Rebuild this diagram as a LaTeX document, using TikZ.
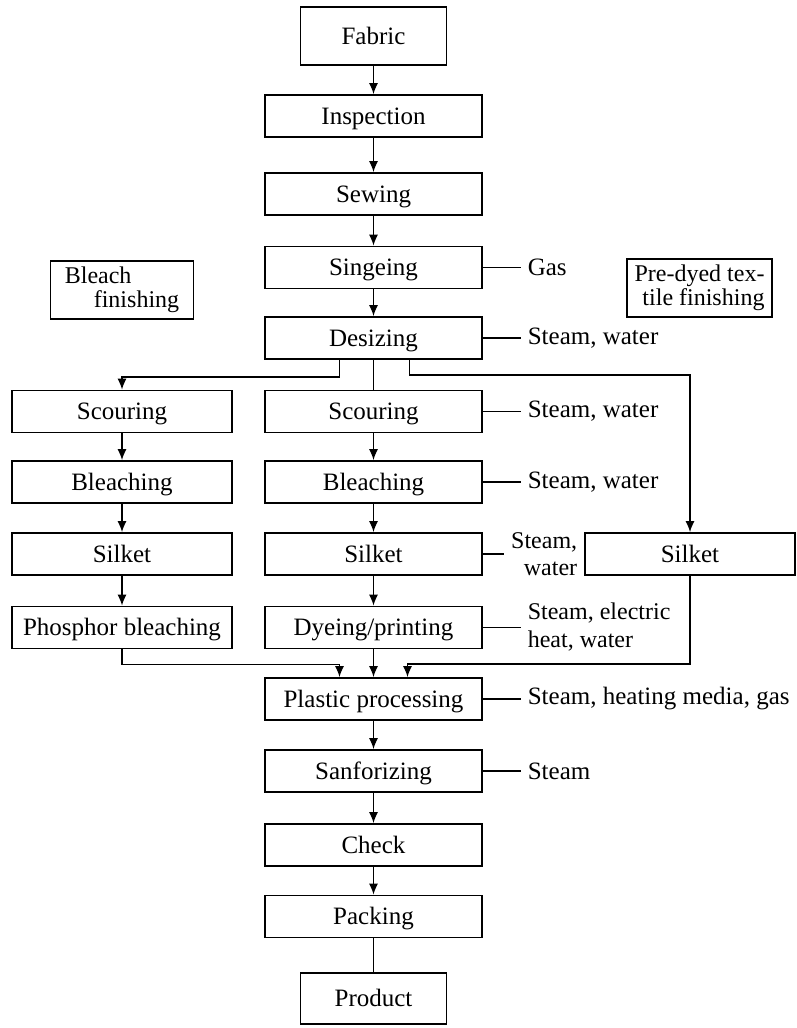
\documentclass[tikz,border=0pt]{standalone}
\usepackage{fontspec}
\setmainfont{Liberation Serif}
\usetikzlibrary{arrows.meta}
\begin{document}
\begin{tikzpicture}[
	x=1pt, y=1pt, line width=1.6pt,
	font=\fontsize{25}{28}\selectfont,
	>={Latex[length=11pt,width=9pt]},
	stage/.style = {draw, minimum width=217pt, minimum height=42pt, inner sep=0pt, text height=22.5pt, text depth=6pt},
	side/.style = {stage, minimum width=220pt},
	end box/.style = {draw, minimum width=146pt, minimum height=56pt, inner sep=0pt, text height=22.5pt, text depth=6pt},
	note box/.style = {draw, minimum width=143pt, minimum height=58pt, inner sep=0pt, font=\fontsize{24}{24}\selectfont},
	medium/.style = {anchor=west, inner xsep=6pt, inner ysep=0pt},
	]
	\useasboundingbox (0,0) rectangle (797,-1028);
	% main line
	\node[end box, minimum height=58pt] (fabric) at (373.5,-36) {Fabric};
	\node[stage] (inspection) at (373.5,-116) {Inspection};
	\node[stage] (sewing) at (373.5,-194) {Sewing};
	\node[stage] (singeing) at (373.5,-267.5) {Singeing};
	\node[stage] (desizing) at (373.5,-338) {Desizing};
	\node[stage] (scouring) at (373.5,-411.5) {Scouring};
	\node[stage] (bleaching) at (373.5,-482) {Bleaching};
	\node[stage] (silket) at (373.5,-554) {Silket};
	\node[stage] (dyeing) at (373.5,-627.5) {Dyeing/printing};
	\node[stage] (plastic) at (373.5,-699) {Plastic processing};
	\node[stage] (sanfor) at (373.5,-771) {Sanforizing};
	\node[stage] (check) at (373.5,-845) {Check};
	\node[stage] (packing) at (373.5,-916.5) {Packing};
	\node[end box, minimum height=51pt] (product) at (373.5,-998.5) {Product};
	% bleach finishing
	\node[note box, align=left] (bleachnote) at (122,-290) {Bleach\\\hspace*{29pt}finishing};
	\node[side] (lscouring) at (122,-411.5) {Scouring};
	\node[side] (lbleaching) at (122,-482) {Bleaching};
	\node[side] (lsilket) at (122,-554) {Silket};
	\node[side] (phosphor) at (122,-627.5) {Phosphor bleaching};
	% pre-dyed textile finishing
	\node[note box, align=right, minimum width=145pt] (predyednote) at (699.5,-288) {Pre-dyed tex-\\tile finishing};
	\node[stage, minimum width=210pt] (rsilket) at (690,-554) {Silket};
	% media
	\node[medium] (gas) at (521,-267.5) {Gas};
	\node[medium] (desizmed) at (521,-338) {Steam, water};
	\node[medium] (scourmed) at (521,-411.5) {Steam, water};
	\node[medium] (bleachmed) at (521,-482) {Steam, water};
	\node[medium, anchor=east, align=right, font=\fontsize{24}{27}\selectfont] (silketmed) at (584,-554) {Steam,\\water};
	\node[medium, align=left, font=\fontsize{24}{28}\selectfont] (dyemed) at (521,-627.5) {Steam, electric\\heat, water};
	\node[medium] (plastmed) at (521,-699) {Steam, heating media, gas};
	\node[medium] (sanformed) at (521,-771) {Steam};

	\foreach \a/\b in {fabric/inspection, inspection/sewing, sewing/singeing, singeing/desizing,
		scouring/bleaching, bleaching/silket, silket/dyeing, dyeing/plastic, plastic/sanfor,
		sanfor/check, check/packing, lscouring/lbleaching, lbleaching/lsilket, lsilket/phosphor}
		\draw[->] (\a) -- (\b);
	\draw (desizing) -- (scouring);
	\draw (packing) -- (product);
	\foreach \a/\b in {singeing/gas, desizing/desizmed, scouring/scourmed, bleaching/bleachmed,
		silket/silketmed, dyeing/dyemed, plastic/plastmed, sanfor/sanformed}
		\draw (\a.east) -- (\b.west);

	% branches
	\draw[->] ([xshift=-34pt]desizing.south) -- ++(0,-17) -| (lscouring.north);
	\draw[->] ([xshift=36pt]desizing.south) -- ++(0,-15) -| (rsilket.north);
	\draw[->] (phosphor.south) -- ++(0,-15) -| ([xshift=-34pt]plastic.north);
	\draw[->] (rsilket.south) -- ++(0,-88) -| ([xshift=34pt]plastic.north);
\end{tikzpicture}
\end{document}
